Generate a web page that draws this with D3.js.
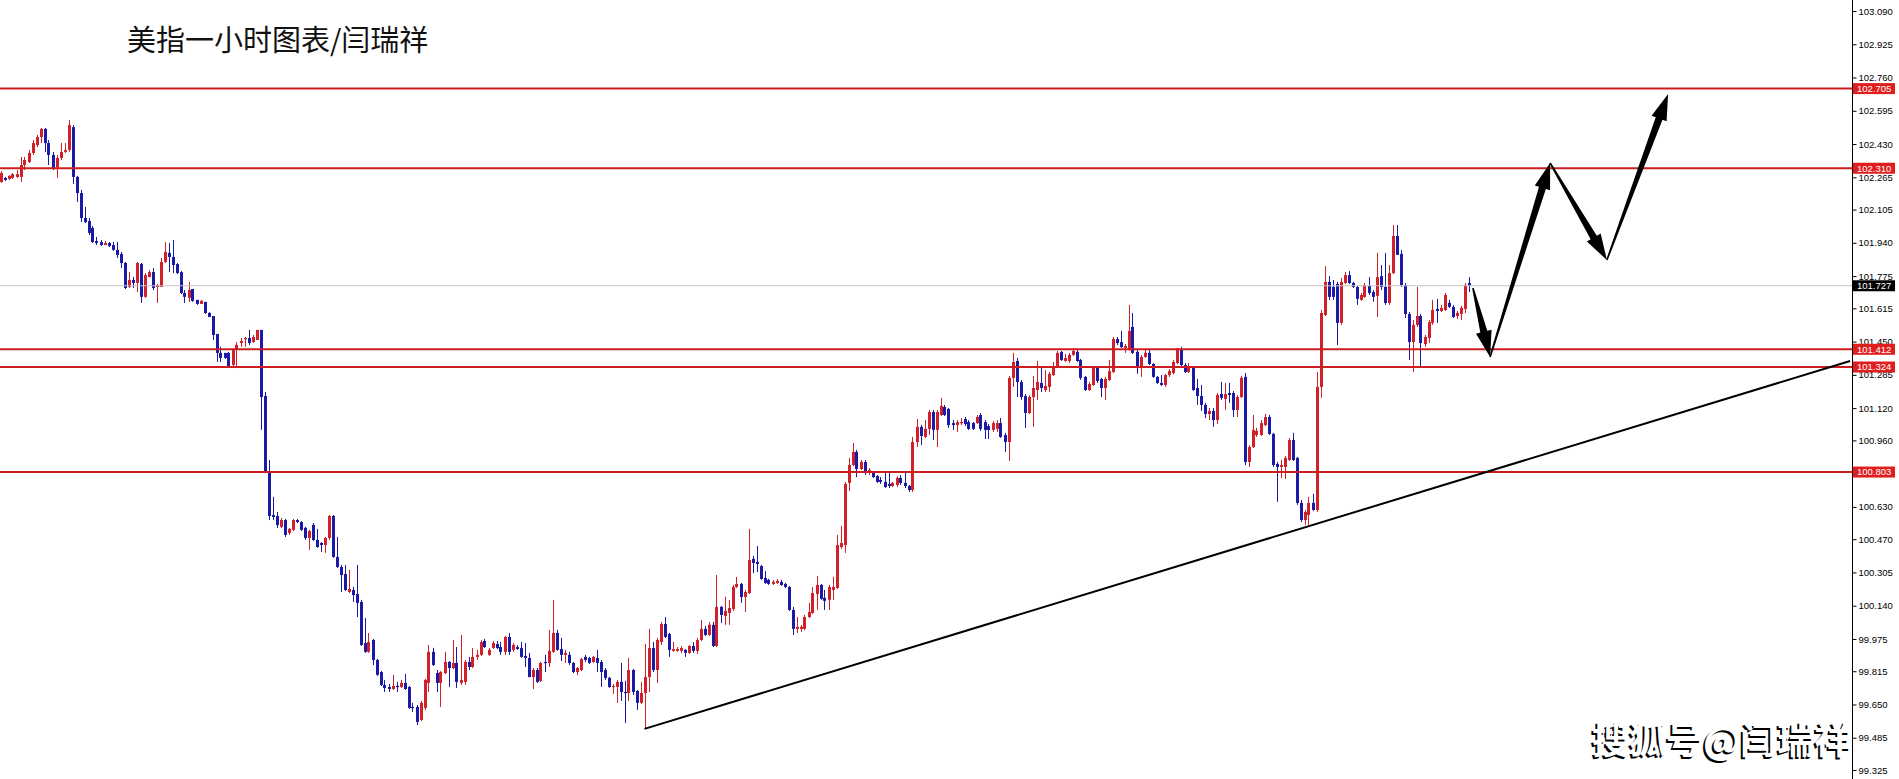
<!DOCTYPE html>
<html><head><meta charset="utf-8">
<script src="https://cdn.jsdelivr.net/npm/d3@7"></script>
<style>body{margin:0;background:#fff;overflow:hidden} svg{display:block}</style>
</head><body>
<svg id="c" width="1899" height="779"></svg>
<script>
const opens = [102.242,102.262,102.257,102.262,102.267,102.267,102.326,102.341,102.386,102.425,
102.465,102.505,102.435,102.376,102.316,102.361,102.391,102.401,102.514,102.267,
102.187,102.063,102.048,102.014,101.949,101.944,101.929,101.939,101.929,101.905,
101.885,101.840,101.721,101.756,101.741,101.835,101.672,101.770,101.795,101.721,
101.721,101.845,101.890,101.870,101.835,101.795,101.691,101.667,101.711,101.657,
101.637,101.647,101.592,101.577,101.488,101.394,101.394,101.394,101.334,101.409,
101.443,101.463,101.468,101.448,101.458,101.508,101.180,100.803,100.590,100.585,
100.531,100.565,100.501,100.516,100.565,100.555,100.526,100.476,100.541,100.466,
100.451,100.441,100.476,100.585,100.382,100.332,100.297,100.208,100.218,100.198,
100.159,99.955,99.911,99.970,99.871,99.811,99.747,99.737,99.727,99.742,
99.737,99.757,99.737,99.638,99.638,99.573,99.633,99.757,99.911,99.806,
99.757,99.806,99.861,99.831,99.856,99.757,99.762,99.861,99.836,99.886,
99.896,99.965,99.896,99.930,99.950,99.935,99.911,99.985,99.921,99.935,
99.930,99.891,99.881,99.786,99.821,99.767,99.861,99.856,99.911,100.005,
99.925,99.896,99.896,99.856,99.811,99.821,99.886,99.881,99.861,99.881,
99.861,99.821,99.782,99.737,99.737,99.762,99.712,99.707,99.821,99.717,
99.658,99.707,99.786,99.930,99.821,99.960,100.049,100.000,99.916,99.916,
99.916,99.921,99.906,99.940,99.916,99.970,100.025,99.995,100.045,99.940,
100.134,100.089,100.104,100.124,100.233,100.248,100.183,100.203,100.372,100.357,
100.337,100.278,100.268,100.248,100.253,100.258,100.248,100.233,100.119,100.025,
100.025,100.025,100.084,100.104,100.198,100.243,100.179,100.169,100.218,100.228,
100.431,100.441,100.749,100.838,100.903,100.818,100.853,100.798,100.798,100.783,
100.764,100.754,100.744,100.734,100.739,100.774,100.749,100.734,100.714,100.952,
101.027,100.977,101.017,101.101,101.012,101.086,101.126,101.116,101.046,101.036,
101.046,101.066,101.051,101.046,101.046,101.086,101.051,101.031,101.012,101.017,
101.046,100.987,100.952,101.270,101.354,101.250,101.180,101.096,101.175,101.210,
101.245,101.210,101.225,101.284,101.324,101.399,101.354,101.354,101.384,101.399,
101.359,101.275,101.210,101.235,101.324,101.265,101.220,101.260,101.299,101.463,
101.448,101.418,101.409,101.523,101.399,101.324,101.374,101.394,101.339,101.275,
101.245,101.235,101.284,101.294,101.344,101.414,101.334,101.299,101.324,101.220,
101.180,101.136,101.091,101.106,101.061,101.190,101.166,101.195,101.195,101.111,
101.175,101.275,100.853,100.927,100.987,100.987,101.036,101.076,100.992,100.843,
100.828,100.828,100.863,100.962,100.873,100.650,100.565,100.590,100.650,100.615,
101.225,101.582,101.746,101.721,101.736,101.543,101.741,101.780,101.741,101.721,
101.657,101.672,101.726,101.696,101.677,101.775,101.721,101.642,101.790,101.974,
101.885,101.731,101.587,101.448,101.533,101.577,101.438,101.468,101.543,101.612,
101.602,101.607,101.642,101.622,101.577,101.587,101.612,101.741];
const highs = [102.296,102.267,102.276,102.286,102.301,102.366,102.366,102.401,102.450,102.475,
102.510,102.510,102.450,102.391,102.376,102.435,102.435,102.549,102.524,102.272,
102.202,102.118,102.063,102.024,101.969,101.954,101.949,101.944,101.944,101.944,
101.895,101.845,101.795,101.771,101.845,101.840,101.790,101.805,101.815,101.736,
101.865,101.944,101.939,101.954,101.840,101.800,101.706,101.746,101.711,101.657,
101.657,101.647,101.597,101.577,101.488,101.424,101.394,101.399,101.414,101.448,
101.468,101.473,101.508,101.483,101.508,101.508,101.200,100.863,100.680,100.605,
100.575,100.570,100.525,100.570,100.570,100.560,100.531,100.516,100.550,100.521,
100.456,100.481,100.590,100.590,100.481,100.342,100.342,100.317,100.233,100.342,
100.169,100.079,100.005,99.975,99.876,99.816,99.772,99.752,99.797,99.762,
99.772,99.802,99.742,99.658,99.648,99.668,99.777,99.945,99.931,99.821,
99.816,99.911,99.866,99.970,99.935,99.995,99.871,99.886,99.930,99.921,
99.970,99.975,99.930,99.965,99.965,99.960,99.990,100.005,99.955,99.945,
99.960,99.955,99.906,99.831,99.831,99.861,99.896,100.020,100.169,100.020,
99.980,99.921,99.911,99.861,99.836,99.881,99.896,99.886,99.891,99.921,
99.871,99.831,99.787,99.752,99.772,99.856,99.767,99.881,99.826,99.722,
99.762,99.950,100.025,99.960,99.980,100.059,100.084,100.005,99.960,99.935,
99.940,99.925,99.945,99.960,99.980,100.069,100.040,100.059,100.059,100.292,
100.139,100.184,100.169,100.243,100.283,100.253,100.218,100.521,100.387,100.436,
100.342,100.312,100.273,100.268,100.273,100.268,100.253,100.238,100.134,100.084,
100.045,100.094,100.154,100.233,100.288,100.248,100.218,100.243,100.283,100.491,
100.536,100.754,100.873,100.947,100.913,100.863,100.863,100.823,100.803,100.788,
100.778,100.798,100.803,100.754,100.783,100.788,100.803,100.739,100.977,101.066,
101.037,101.061,101.111,101.111,101.111,101.171,101.136,101.121,101.061,101.061,
101.071,101.076,101.061,101.051,101.086,101.096,101.061,101.041,101.056,101.061,
101.071,100.997,101.280,101.394,101.369,101.260,101.190,101.185,101.280,101.354,
101.324,101.309,101.299,101.349,101.404,101.404,101.389,101.394,101.419,101.414,
101.364,101.280,101.250,101.329,101.329,101.270,101.275,101.359,101.473,101.473,
101.503,101.438,101.632,101.592,101.409,101.384,101.414,101.414,101.344,101.280,
101.284,101.289,101.314,101.359,101.419,101.424,101.344,101.344,101.329,101.265,
101.235,101.146,101.121,101.121,101.195,101.250,101.245,101.245,101.205,101.185,
101.280,101.294,100.937,101.086,101.022,101.061,101.091,101.086,100.997,100.853,
100.863,100.883,100.972,100.997,100.878,100.665,100.615,100.680,100.695,101.299,
101.607,101.825,101.775,101.756,101.746,101.766,101.795,101.800,101.746,101.726,
101.691,101.741,101.770,101.706,101.890,101.830,101.890,101.830,102.028,102.028,
101.905,101.741,101.597,101.557,101.721,101.587,101.483,101.557,101.657,101.662,
101.632,101.691,101.657,101.632,101.602,101.627,101.741,101.770];
const lows = [102.237,102.247,102.252,102.257,102.262,102.242,102.301,102.336,102.376,102.415,
102.435,102.391,102.326,102.301,102.262,102.351,102.386,102.391,102.232,102.143,
102.043,102.038,101.979,101.939,101.929,101.924,101.929,101.919,101.900,101.865,
101.815,101.711,101.716,101.716,101.696,101.642,101.667,101.770,101.706,101.642,
101.721,101.840,101.795,101.790,101.785,101.686,101.642,101.647,101.647,101.632,
101.637,101.587,101.572,101.458,101.349,101.349,101.364,101.324,101.324,101.319,
101.424,101.424,101.433,101.443,101.458,101.012,100.798,100.565,100.565,100.525,
100.525,100.481,100.491,100.511,100.550,100.511,100.466,100.417,100.461,100.427,
100.407,100.402,100.466,100.377,100.327,100.208,100.213,100.203,100.159,100.084,
99.940,99.906,99.906,99.846,99.792,99.742,99.712,99.712,99.722,99.712,
99.732,99.722,99.628,99.613,99.548,99.568,99.623,99.712,99.841,99.712,
99.638,99.801,99.737,99.826,99.732,99.747,99.747,99.821,99.831,99.871,
99.891,99.930,99.891,99.925,99.925,99.896,99.896,99.896,99.911,99.921,
99.881,99.836,99.787,99.727,99.757,99.762,99.811,99.836,99.906,99.916,
99.866,99.856,99.846,99.806,99.796,99.816,99.861,99.851,99.856,99.811,
99.737,99.772,99.732,99.702,99.658,99.668,99.558,99.668,99.697,99.623,
99.653,99.529,99.712,99.811,99.757,99.945,99.980,99.886,99.911,99.911,
99.906,99.886,99.901,99.906,99.901,99.965,99.990,99.990,99.935,99.935,
100.054,100.045,100.045,100.114,100.228,100.154,100.109,100.198,100.302,100.307,
100.268,100.248,100.243,100.243,100.248,100.238,100.228,100.114,99.995,100.005,
100.010,100.020,100.079,100.099,100.119,100.169,100.119,100.119,100.169,100.223,
100.422,100.402,100.709,100.833,100.778,100.813,100.788,100.788,100.773,100.749,
100.744,100.724,100.724,100.729,100.729,100.739,100.724,100.704,100.704,100.927,
100.937,100.972,100.987,100.962,100.927,101.081,101.081,101.022,101.012,101.002,
101.036,101.031,101.012,101.012,101.041,101.007,100.967,100.967,101.002,101.002,
100.972,100.903,100.858,101.225,101.175,101.161,101.022,101.091,101.027,101.161,
101.200,101.200,101.200,101.280,101.319,101.354,101.349,101.344,101.379,101.349,
101.260,101.205,101.205,101.230,101.245,101.175,101.161,101.255,101.294,101.433,
101.418,101.394,101.404,101.389,101.290,101.275,101.369,101.334,101.270,101.240,
101.230,101.225,101.275,101.289,101.339,101.329,101.294,101.294,101.205,101.136,
101.106,101.071,101.061,101.027,101.041,101.161,101.111,101.146,101.076,101.076,
101.171,100.838,100.828,100.922,100.977,100.982,101.031,100.987,100.828,100.655,
100.774,100.769,100.858,100.858,100.640,100.555,100.541,100.541,100.610,100.605,
101.171,101.577,101.657,101.657,101.433,101.533,101.736,101.736,101.716,101.632,
101.652,101.667,101.681,101.647,101.572,101.706,101.632,101.632,101.785,101.880,
101.721,101.567,101.359,101.299,101.523,101.324,101.424,101.443,101.533,101.543,
101.597,101.602,101.617,101.567,101.562,101.557,101.592,101.696];
const closes = [102.286,102.252,102.272,102.281,102.281,102.326,102.351,102.386,102.435,102.465,
102.505,102.435,102.376,102.306,102.361,102.391,102.401,102.524,102.267,102.187,
102.063,102.043,101.989,101.944,101.939,101.929,101.939,101.924,101.905,101.880,
101.840,101.716,101.756,101.741,101.840,101.672,101.780,101.795,101.716,101.731,
101.845,101.895,101.870,101.830,101.790,101.691,101.672,101.706,101.652,101.637,
101.652,101.592,101.572,101.483,101.394,101.369,101.369,101.324,101.409,101.434,
101.453,101.468,101.443,101.473,101.508,101.175,100.808,100.585,100.580,100.540,
100.565,100.491,100.521,100.565,100.555,100.516,100.476,100.511,100.466,100.431,
100.441,100.476,100.585,100.382,100.332,100.292,100.218,100.223,100.193,100.154,
99.945,99.911,99.960,99.871,99.797,99.747,99.732,99.727,99.742,99.737,
99.757,99.727,99.633,99.633,99.563,99.658,99.772,99.911,99.846,99.757,
99.811,99.861,99.831,99.856,99.762,99.772,99.861,99.836,99.886,99.896,
99.960,99.935,99.921,99.955,99.930,99.911,99.985,99.911,99.945,99.925,
99.886,99.881,99.786,99.821,99.762,99.856,99.856,99.916,100.005,99.921,
99.896,99.906,99.856,99.811,99.831,99.876,99.871,99.856,99.886,99.856,
99.811,99.782,99.737,99.742,99.762,99.712,99.707,99.821,99.712,99.658,
99.707,99.786,99.930,99.821,99.970,100.049,99.985,99.921,99.925,99.925,
99.930,99.906,99.940,99.916,99.970,100.025,99.995,100.045,99.940,100.134,
100.094,100.114,100.129,100.233,100.248,100.183,100.208,100.367,100.352,100.347,
100.273,100.253,100.248,100.258,100.263,100.243,100.233,100.119,100.025,100.035,
100.035,100.084,100.109,100.203,100.243,100.174,100.164,100.233,100.233,100.441,
100.451,100.744,100.838,100.903,100.818,100.853,100.798,100.813,100.778,100.754,
100.754,100.729,100.734,100.749,100.774,100.749,100.734,100.714,100.952,101.027,
100.982,101.017,101.101,101.012,101.101,101.131,101.086,101.036,101.036,101.051,
101.051,101.041,101.017,101.017,101.076,101.017,101.012,101.012,101.046,101.046,
100.977,100.952,101.270,101.349,101.250,101.175,101.096,101.175,101.220,101.250,
101.220,101.230,101.290,101.329,101.394,101.359,101.369,101.384,101.404,101.354,
101.270,101.210,101.240,101.324,101.255,101.220,101.265,101.304,101.463,101.443,
101.423,101.428,101.503,101.394,101.324,101.374,101.394,101.339,101.275,101.245,
101.235,101.284,101.304,101.349,101.414,101.334,101.299,101.329,101.210,101.180,
101.136,101.091,101.106,101.061,101.185,101.171,101.190,101.185,101.111,101.175,
101.270,100.853,100.927,101.012,101.007,101.046,101.076,100.992,100.838,100.828,
100.838,100.873,100.962,100.863,100.650,100.565,100.605,100.650,100.615,101.225,
101.592,101.746,101.672,101.672,101.543,101.746,101.780,101.741,101.721,101.662,
101.681,101.731,101.691,101.672,101.770,101.721,101.642,101.790,101.974,101.880,
101.731,101.587,101.448,101.533,101.577,101.443,101.473,101.547,101.607,101.602,
101.617,101.681,101.622,101.572,101.592,101.617,101.731,101.727];

const levels = [102.705, 102.310, 101.412, 101.324, 100.803];
const lastPrice = 101.727;
const tickValues = [103.090,102.925,102.760,102.595,102.430,102.265,102.105,101.940,101.775,101.615,
101.450,101.285,101.120,100.960,100.795,100.630,100.470,100.305,100.140,99.975,99.815,99.650,99.485,99.325];
// annotation points given as [bar index, price]
const trendLine = [[161, 99.529], [462.4, 101.354]];
const arrowSegments = [
  [[368.1, 101.716], [372.4, 101.374]],
  [[372.4, 101.374], [387.4, 102.336]],
  [[387.4, 102.336], [401.6, 101.855]],
  [[401.6, 101.855], [416.9, 102.678]]
];
const titleText = "美指一小时图表/闫瑞祥";
const watermarkText = "搜狐号@闫瑞祥";

const svg = d3.select("#c");
const axisX = 1852;
const x = d3.scaleLinear().domain([0, 367]).range([0.5, 1468.5]);
const y = d3.scaleLinear().domain([99.325, 103.090]).range([770, 11]);
const UP = "#d0202a", DOWN = "#1a1aa6";

svg.append("rect").attr("width",1899).attr("height",779).attr("fill","#fff");

// candles
const idx = d3.range(opens.length);
const g = svg.append("g");
g.selectAll("line.w").data(idx).join("line")
  .attr("x1", i => Math.round(x(i)) + 0.5).attr("x2", i => Math.round(x(i)) + 0.5)
  .attr("y1", i => y(highs[i])).attr("y2", i => y(lows[i]))
  .attr("stroke", i => closes[i] >= opens[i] ? UP : DOWN).attr("stroke-width", 1);
g.selectAll("rect.b").data(idx).join("rect")
  .attr("x", i => Math.round(x(i)) - 1)
  .attr("width", 3)
  .attr("y", i => Math.min(y(opens[i]), y(closes[i])))
  .attr("height", i => Math.max(1.2, Math.abs(y(opens[i]) - y(closes[i]))))
  .attr("fill", i => closes[i] >= opens[i] ? UP : DOWN);

// last price line
svg.append("line").attr("x1",0).attr("x2",axisX).attr("y1",y(lastPrice)).attr("y2",y(lastPrice))
  .attr("stroke","#c4c4c4").attr("stroke-width",1);

// level lines
svg.selectAll("line.lvl").data(levels).join("line")
  .attr("x1",0).attr("x2",axisX).attr("y1",d=>y(d)).attr("y2",d=>y(d))
  .attr("stroke","#cc1e1e").attr("stroke-width",2);

// trend line
svg.append("line")
  .attr("x1", x(trendLine[0][0])).attr("y1", y(trendLine[0][1]))
  .attr("x2", x(trendLine[1][0])).attr("y2", y(trendLine[1][1]))
  .attr("stroke","#000").attr("stroke-width",2);

// arrows
function arrowPoly(p0, p1) {
  const dx = p1[0]-p0[0], dy = p1[1]-p0[1];
  const L = Math.hypot(dx, dy);
  const ux = dx/L, uy = dy/L, nx = -uy, ny = ux;
  const headLen = 26, headW = 8, shaftEnd = 3.6, shaftStart = 0.8;
  const hb = [p1[0]-ux*headLen, p1[1]-uy*headLen];
  return [
    [p0[0]+nx*shaftStart, p0[1]+ny*shaftStart],
    [hb[0]+nx*shaftEnd, hb[1]+ny*shaftEnd],
    [hb[0]+nx*headW, hb[1]+ny*headW],
    p1,
    [hb[0]-nx*headW, hb[1]-ny*headW],
    [hb[0]-nx*shaftEnd, hb[1]-ny*shaftEnd],
    [p0[0]-nx*shaftStart, p0[1]-ny*shaftStart]
  ];
}
svg.selectAll("path.arrow").data(arrowSegments).join("path")
  .attr("d", s => d3.line()(arrowPoly([x(s[0][0]), y(s[0][1])], [x(s[1][0]), y(s[1][1])])) + "Z")
  .attr("fill","#000");

// axis
svg.append("line").attr("x1",axisX+0.5).attr("x2",axisX+0.5).attr("y1",0).attr("y2",779)
  .attr("stroke","#000").attr("stroke-width",1);
const axis = d3.axisRight(y).tickValues(tickValues).tickFormat(d => d.toFixed(3)).tickSize(4).tickPadding(2);
const ag = svg.append("g").attr("transform", `translate(${axisX+0.5},0)`).call(axis);
ag.select(".domain").remove();
ag.selectAll("text").attr("font-family","Liberation Sans, Arial, sans-serif").attr("font-size","9.5px").attr("fill","#000");
ag.selectAll("line").attr("stroke","#000");

// price boxes
function priceBox(v, fill) {
  const yy = y(v);
  svg.append("rect").attr("x", axisX+1).attr("y", yy-5.5).attr("width", 42).attr("height", 11).attr("fill", fill);
  svg.append("text").attr("x", axisX+5).attr("y", yy).attr("dy","0.35em")
    .attr("font-family","Liberation Sans, Arial, sans-serif").attr("font-size","9.5px").attr("fill","#fff")
    .text(v.toFixed(3));
}
levels.forEach(v => priceBox(v, "#e01e1e"));
priceBox(lastPrice, "#000");

// title
svg.append("text").attr("x",127).attr("y",51)
  .attr("font-family","'Noto Sans CJK SC', sans-serif").attr("font-size","29px").attr("fill","#111")
  .text(titleText);

// watermark
const wm = svg.append("g").attr("font-family","'Noto Sans CJK SC', sans-serif").attr("font-size","37px").attr("font-weight","700");
wm.append("text").attr("x",1590).attr("y",756).attr("fill","#000").text(watermarkText);
wm.append("text").attr("x",1592).attr("y",754).attr("fill","#fff").text(watermarkText);
</script>
</body></html>
